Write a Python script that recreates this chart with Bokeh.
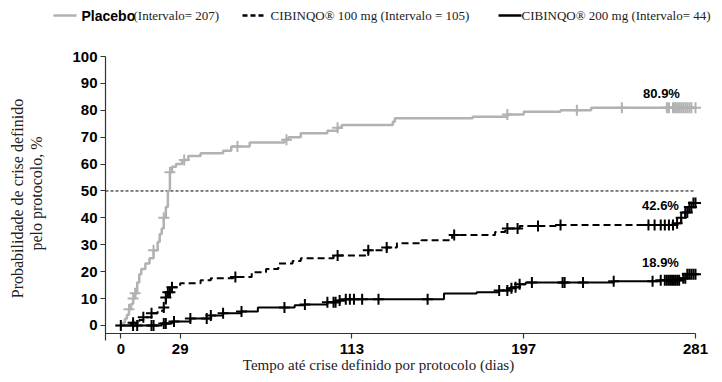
import numpy as np
from bokeh.plotting import figure
from bokeh.models import Label, FixedTicker
from bokeh.embed import file_html
from bokeh.resources import INLINE

# ---------------- data ----------------
x_ticks = [0, 29, 113, 197, 281]
y_ticks = [0, 10, 20, 30, 40, 50, 60, 70, 80, 90, 100]

placebo_t = [0, 1, 2, 3, 4, 5, 6, 7, 8, 9, 10, 12, 14, 16, 18, 19, 20, 21, 22, 23, 24, 25, 27, 30, 33, 39,
             50, 54, 63, 80, 82, 88, 101, 106, 108, 133, 134, 172, 189, 197, 215, 230, 281]
placebo_p = [0, 1, 2.5, 4, 6, 8, 10, 12, 16, 19, 21, 23, 25, 28, 31, 34, 36, 40, 44, 50, 57, 59, 60, 61.5, 63, 64,
             65, 66.5, 68, 69, 70, 71.5, 72.4, 73.5, 74.5, 75.7, 77, 77.6, 78.4, 79.5, 80, 80.9, 80.9]
placebo_cens = [0, 4, 6, 7, 16, 21, 24, 31, 57, 81, 106, 189, 223, 245,
                267, 268, 270, 271, 272, 273, 274, 275, 276, 277, 278, 279, 281]

mg100_t = [0, 5, 9, 11, 15, 18, 21, 22, 23, 24.5, 29, 39, 44, 55, 64, 71, 77, 84, 88, 104, 121, 130, 135,
           147, 162, 183, 188, 195, 215, 272, 274, 276, 278, 280, 281]
mg100_p = [0, 1, 2, 3, 4.5, 5.5, 6.7, 10.4, 12.3, 14.2, 15.7, 16.8, 17.5, 18, 19.8, 21, 23, 24, 25, 26, 28, 29, 30.6,
           31.7, 33.6, 34.7, 36, 37, 37.3, 38, 40, 42, 44, 45.5, 45.5]
mg100_cens = [6, 11, 15, 21, 22, 23, 24, 25, 56, 106, 121, 130, 163, 189, 194, 204, 215, 258, 261,
              264, 266, 268, 270, 272, 274, 276, 277, 278, 279, 280, 281]

mg200_t = [0, 20, 25, 34, 44, 50, 59, 67, 85, 90, 101, 106, 110, 158, 174, 185, 190, 192, 195, 198,
           241, 264, 275, 277, 281]
mg200_p = [0, 0.7, 1.5, 2.6, 3.7, 4.5, 5.2, 6.7, 7.5, 7.8, 8.6, 9.3, 9.7, 11.9, 12.3, 13, 13.8, 14.2, 15.3, 16,
           16.4, 16.8, 17.5, 19, 19]
mg200_cens = [0, 6, 8, 15, 16, 21, 22, 26, 34, 42, 44, 50, 59, 80, 90, 101, 104, 105, 107, 110, 112, 114,
              118, 126, 150, 185, 189, 191, 193, 195, 201, 216, 217, 226, 241, 260, 264, 266, 267, 268,
              269, 270, 271, 272, 273, 275, 276, 277, 278, 279, 280, 281]

ref_level = 50
end_labels = ["80.9%", "42.6%", "18.9%"]
legend_names = ["Placebo", "(Intervalo= 207)", "CIBINQO\u00ae 100 mg (Intervalo = 105)",
                "CIBINQO\u00ae 200 mg (Intervalo= 44)"]
y_label_lines = ["Probabilidade de crise definido", "pelo protocolo, %"]
x_label = "Tempo até crise definido por protocolo (dias)"

# ---------------- layout helpers ----------------
W, H = 714, 374
AX_L, AX_R, AX_T, AX_B = 105, 695, 56, 333     # axis box in figure pixels
X0, X1 = -7.5, 281
Y0, Y1 = -3, 100
KX = (X1 - X0) / (AX_R - AX_L)
KY = (Y1 - Y0) / (AX_B - AX_T)


def dx(px):  # figure-pixel x -> data x
    return X0 + (px - AX_L) * KX


def dy(py):  # figure-pixel y -> data y
    return Y1 - (py - AX_T) * KY


def at(ts, ps, t):
    ts = np.asarray(ts, dtype=float)
    idx = np.searchsorted(ts, np.asarray(t, dtype=float), side="right") - 1
    return np.asarray(ps)[idx]


p = figure(width=W, height=H, output_backend="svg", toolbar_location=None, title_location=None,
           x_range=(dx(0), dx(W)), y_range=(dy(H), dy(0)),
           min_border_left=0, min_border_right=0, min_border_top=0, min_border_bottom=0)
p.outline_line_color = None
p.xgrid.visible = False
p.ygrid.visible = False
p.background_fill_color = "white"
p.border_fill_color = "white"

GRAY = "#b2b2b2"

# reference line at 50 %
p.segment(x0=[X0], y0=[ref_level], x1=[X1], y1=[ref_level], line_color="black", line_width=1,
          line_dash="3 2")

# curves
p.step(placebo_t, placebo_p, mode="after", line_color=GRAY, line_width=2.5)
p.step(mg100_t, mg100_p, mode="after", line_color="black", line_width=2, line_dash="7 4")
p.step(mg200_t, mg200_p, mode="after", line_color="black", line_width=2)

# censor marks
p.scatter(placebo_cens, at(placebo_t, placebo_p, placebo_cens), marker="cross", size=11,
          line_color=GRAY, line_width=2)
p.scatter(mg100_cens, at(mg100_t, mg100_p, mg100_cens), marker="cross", size=11,
          line_color="black", line_width=2)
p.scatter(mg200_cens, at(mg200_t, mg200_p, mg200_cens), marker="cross", size=11,
          line_color="black", line_width=2)

# axes (drawn at fixed data locations, limited by bounds)
xa, ya = p.xaxis[0], p.yaxis[0]
xa.fixed_location = Y0
ya.fixed_location = X0
xa.bounds = (X0, X1)
ya.bounds = (Y0 - 2.5, Y1)
for ax in (xa, ya):
    ax.axis_line_color = "#333333"
    ax.axis_line_width = 1.2
    ax.major_tick_line_color = "#333333"
    ax.major_tick_line_width = 1.2
    ax.major_tick_in = 0
    ax.major_tick_out = 5
    ax.minor_tick_line_color = None
    ax.major_label_text_font = "Liberation Sans"
    ax.major_label_text_font_style = "bold"
    ax.major_label_text_font_size = "15px"
    ax.major_label_text_color = "black"
xa.ticker = FixedTicker(ticks=x_ticks)
ya.ticker = FixedTicker(ticks=y_ticks)
xa.major_label_standoff = 5
ya.major_label_standoff = 3

# end percentages
for txt, (rx, ry) in zip(end_labels, [(661, 93), (660, 205), (660, 262)]):
    p.add_layout(Label(x=dx(rx), y=dy(ry), text=txt, text_align="center", text_baseline="middle",
                       text_font="Liberation Sans", text_font_style="bold", text_font_size="13px",
                       text_color="black"))

# axis labels
p.add_layout(Label(x=dx(17), y=dy(198), text=y_label_lines[0], angle=np.pi / 2, text_align="center",
                   text_baseline="middle", text_font="Liberation Serif", text_font_size="16px",
                   text_color="#222222"))
p.add_layout(Label(x=dx(36), y=dy(193), text=y_label_lines[1], angle=np.pi / 2, text_align="center",
                   text_baseline="middle", text_font="Liberation Serif", text_font_size="16px",
                   text_color="#222222"))
p.add_layout(Label(x=dx(378), y=dy(364), text=x_label, text_align="center", text_baseline="middle",
                   text_font="Liberation Serif", text_font_size="15px", text_color="#222222"))

# legend
LY = 15
p.segment(x0=[dx(53)], y0=[dy(LY)], x1=[dx(76)], y1=[dy(LY)], line_color=GRAY, line_width=2.5)
p.add_layout(Label(x=dx(81), y=dy(LY), text=legend_names[0], text_baseline="middle",
                   text_font="Liberation Sans", text_font_style="bold", text_font_size="14px",
                   text_color="black"))
p.add_layout(Label(x=dx(133), y=dy(LY), text=legend_names[1], text_baseline="middle",
                   text_font="Liberation Serif", text_font_size="13px", text_color="#222222"))
p.segment(x0=[dx(242)], y0=[dy(LY)], x1=[dx(264)], y1=[dy(LY)], line_color="black", line_width=2.5,
          line_dash="5 3")
p.add_layout(Label(x=dx(270), y=dy(LY), text=legend_names[2], text_baseline="middle",
                   text_font="Liberation Serif", text_font_size="13px", text_color="#222222"))
p.segment(x0=[dx(498)], y0=[dy(LY)], x1=[dx(521)], y1=[dy(LY)], line_color="black", line_width=2.5)
p.add_layout(Label(x=dx(521), y=dy(LY), text=legend_names[3], text_baseline="middle",
                   text_font="Liberation Serif", text_font_size="13px", text_color="#222222"))

open("out.html", "w").write(file_html(p, INLINE))
